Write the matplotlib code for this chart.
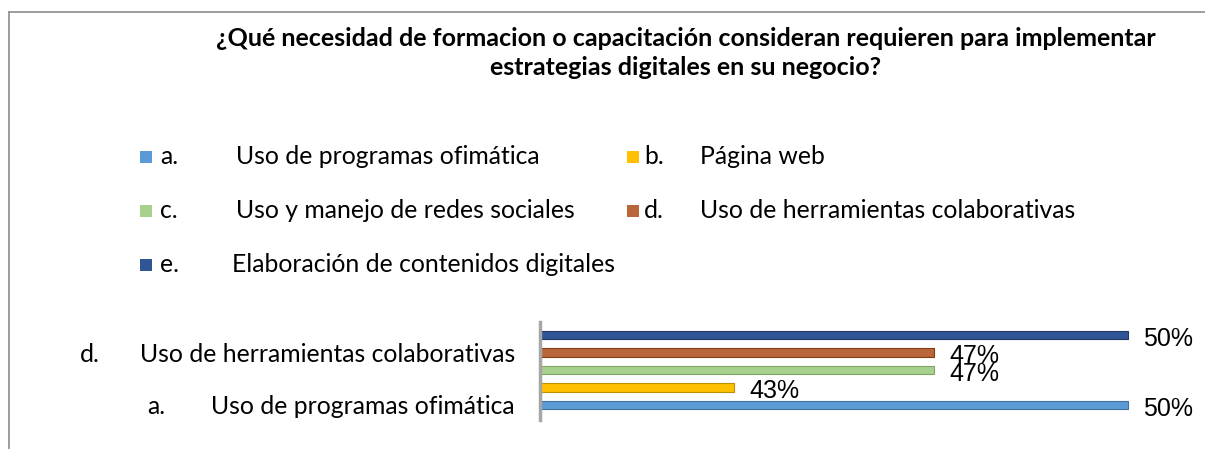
import matplotlib
matplotlib.use("Agg")
from matplotlib import pyplot as plt
from matplotlib.lines import Line2D
from matplotlib.patches import Rectangle

# data, bottom to top as drawn
letters = ["a.", "b.", "c.", "d.", "e."]
categories = [
    "Uso de programas ofimática",
    "Página web",
    "Uso y manejo de redes sociales",
    "Uso de herramientas colaborativas",
    "Elaboración de contenidos digitales",
]
values = [0.500, 0.433, 0.467, 0.467, 0.500]
value_labels = ["50%", "43%", "47%", "47%", "50%"]
colors = ["#5B9BD5", "#FFC000", "#A9D18E", "#B9673A", "#2F5597"]
edges = ["#41719C", "#BF9000", "#7FA868", "#843C0C", "#203864"]
shown_ticks = [0, 3]  # excel only kept every other category label

title = ("¿Qué necesidad de formacion o capacitación consideran requieren para implementar\n"
         "estrategias digitales en su negocio?")

W, H = 1205, 449
fig = plt.figure(figsize=(W / 100, H / 100), dpi=100)
fig.patch.set_facecolor("white")

def fx(px):
    return px / W

def fy(py):
    return 1 - py / H

# outer frame (top + left edges only visible)
fig.add_artist(Line2D([fx(9), 1], [fy(12), fy(12)], color="#8C8C8C", lw=1.2))
fig.add_artist(Line2D([fx(9), fx(9)], [fy(12), 0], color="#8C8C8C", lw=1.2))

fig.text(fx(686), fy(53), title, ha="center", va="center", fontsize=18,
         fontweight="bold", family="Lato", linespacing=1.3, color="#000000")

# legend, laid out by hand like the excel one
FS = 17.8
legend_rows = [157, 211, 265]
col_x = [(140, 160, 236), (627, 644, 700)]
for k in range(len(categories)):
    row, col = divmod(k, 2)
    mx, lx, tx = col_x[col]
    y = legend_rows[row]
    fig.add_artist(Rectangle((fx(mx), fy(y + 6)), fx(12), 12 / H, facecolor=colors[k],
                             edgecolor="none", transform=fig.transFigure))
    fig.text(fx(lx), fy(y), letters[k], ha="left", va="center", fontsize=FS,
             family="Lato", color="#000000")
    fig.text(fx(tx - (4 if k == 4 else 0)), fy(y), categories[k], ha="left", va="center",
             fontsize=FS, family="Lato", color="#000000")

# bar chart
ax = fig.add_axes([fx(540), fy(420), fx(665), 98 / H])
ypos = list(range(len(values)))
ax.barh(ypos, values, height=0.5, left=0, color=colors, edgecolor=edges, linewidth=0.8)
ax.set_xlim(0.40, 0.40 + 665 / 5880)
ax.set_ylim(-0.857, 4.74)

for y, v, lab in zip(ypos, values, value_labels):
    ax.annotate(lab, (v, y), xytext=(15, -4), textcoords="offset pixels",
                ha="left", va="center", fontsize=18, family="Liberation Sans",
                color="#000000", annotation_clip=False)

ax.set_yticks([ypos[i] for i in shown_ticks])
ax.set_yticklabels([categories[i] for i in shown_ticks], fontsize=FS, family="Lato")
ax.tick_params(axis="y", length=0, pad=18)
ax.set_xticks([])
for i in shown_ticks:
    ax.text(-0.692 if i == 3 else -0.59, ypos[i], letters[i], transform=ax.get_yaxis_transform(),
            ha="left", va="center_baseline", fontsize=FS, family="Lato")

for s in ["top", "right", "bottom"]:
    ax.spines[s].set_visible(False)
ax.spines["left"].set_color("#A6A6A6")
ax.spines["left"].set_linewidth(2.5)

fig.savefig("out.png", dpi=100, facecolor="white")
